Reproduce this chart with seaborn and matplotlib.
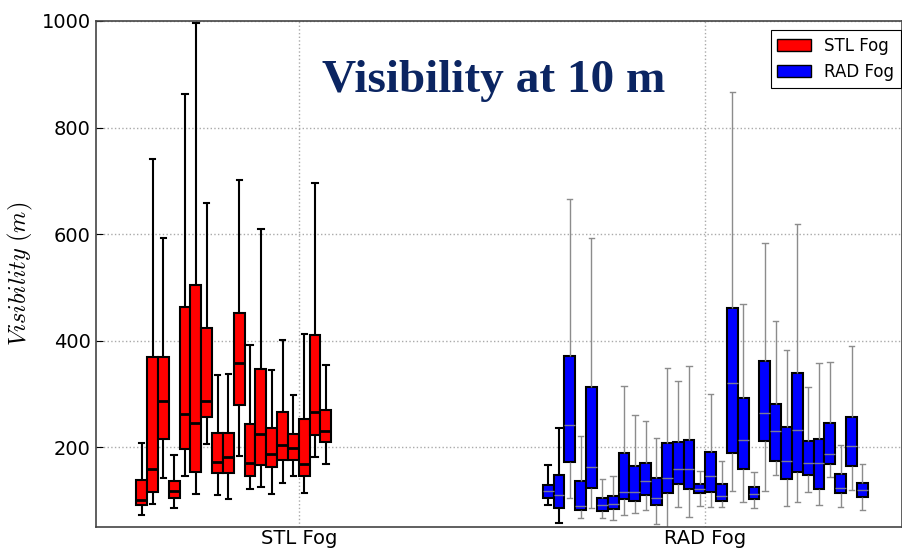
import numpy as np
import pandas as pd
import matplotlib
matplotlib.use("Agg")
import matplotlib.pyplot as plt
from matplotlib.patches import Patch
import seaborn as sns

# Fog types shown on the category axis
groups = ["STL Fog", "RAD Fog"]

# Five-number summaries of visibility (m) for each stratus-lowering fog event
stl_low = [73, 93, 142, 86, 146, 112, 206, 111, 103, 184, 121, 125, 112, 132, 145, 114, 182, 169]
stl_q1 = [91, 116, 215, 104, 196, 154, 257, 151, 151, 279, 145, 166, 162, 175, 176, 146, 222, 210]
stl_med = [101, 159, 287, 117, 262, 245, 286, 172, 181, 357, 171, 224, 187, 204, 198, 168, 265, 231]
stl_q3 = [139, 369, 369, 137, 463, 504, 423, 226, 226, 451, 244, 346, 235, 266, 224, 253, 411, 269]
stl_high = [207, 741, 592, 185, 862, 996, 659, 336, 337, 701, 392, 609, 344, 402, 298, 412, 696, 355]

# Five-number summaries of visibility (m) for each radiation fog event
rad_low = [91, 57, 104, 67, 85, 66, 64, 73, 76, 82, 56, 40, 87, 68, 90,
           87, 87, 118, 97, 86, 118, 147, 89, 96, 116, 92, 144, 87, 119, 81]
rad_q1 = [104, 86, 172, 82, 124, 80, 84, 102, 98, 110, 91, 114, 131, 121, 113,
          116, 99, 188, 159, 103, 212, 174, 140, 153, 147, 121, 169, 113, 165, 106]
rad_med = [118, 111, 242, 89, 162, 91, 93, 116, 116, 137, 104, 142, 159, 159, 122,
           146, 109, 320, 213, 112, 264, 231, 173, 232, 170, 171, 187, 124, 202, 119]
rad_q3 = [129, 147, 371, 137, 312, 104, 109, 188, 164, 170, 142, 207, 210, 214, 131,
          191, 131, 462, 293, 125, 361, 281, 238, 340, 212, 216, 246, 149, 256, 132]
rad_high = [167, 236, 666, 221, 592, 140, 146, 314, 261, 249, 218, 348, 325, 352, 156,
            300, 174, 866, 469, 154, 583, 436, 382, 619, 312, 357, 359, 203, 389, 169]

# Each category holds up to 30 event slots across 0.8 of its width
SLOTS = 30
STEP = 0.8 / SLOTS


def event_frame(lows, q1s, meds, q3s, highs, center, group):
    """Long-form table: the five summary values of every event at its slot."""
    rows = []
    for i, summary in enumerate(zip(lows, q1s, meds, q3s, highs)):
        pos = round(center + (i - (SLOTS - 1) / 2) * STEP, 6)
        for v in summary:
            rows.append({"pos": pos, "vis": v, "fog": group})
    return pd.DataFrame(rows)


stl_df = event_frame(stl_low, stl_q1, stl_med, stl_q3, stl_high, 1, groups[0])
rad_df = event_frame(rad_low, rad_q1, rad_med, rad_q3, rad_high, 2, groups[1])
rad_split = rad_df["pos"].unique()[2]
rad_first = rad_df[rad_df["pos"] < rad_split]
rad_rest = rad_df[rad_df["pos"] >= rad_split]

plt.rcParams["mathtext.fontset"] = "cm"

fig = plt.figure(figsize=(9.02, 5.52), dpi=100)
ax = fig.add_axes([0.106, 0.0453, 0.8935, 0.9167])

common = dict(x="pos", y="vis", native_scale=True, orient="x",
              whis=(0, 100), width=1.0, saturation=1, showfliers=False,
              dodge=False, linecolor="black", linewidth=1.5, ax=ax)

sns.boxplot(data=stl_df, color="#ff0000",
            medianprops=dict(color="black", linewidth=2),
            whiskerprops=dict(color="black", linewidth=1.5),
            capprops=dict(color="black", linewidth=1.5),
            **common)
sns.boxplot(data=rad_first, color="#0000ff",
            medianprops=dict(color="#7a7a9a", linewidth=1),
            whiskerprops=dict(color="black", linewidth=1.5),
            capprops=dict(color="black", linewidth=1.5),
            **common)
sns.boxplot(data=rad_rest, color="#0000ff",
            medianprops=dict(color="#7a7a9a", linewidth=1),
            whiskerprops=dict(color="#8c8c8c", linewidth=1),
            capprops=dict(color="#8c8c8c", linewidth=1),
            **common)

ax.set_xlim(0.5, 2.483)
ax.set_ylim(50, 1000)
ax.set_xticks([1, 2])
ax.set_xticklabels(groups, fontsize=14)
ax.set_yticks([200, 400, 600, 800, 1000])
ax.tick_params(axis="y", labelsize=14, direction="in", length=5)
ax.tick_params(axis="x", length=0, pad=1.5)
ax.set_xlabel("")
ax.set_ylabel(r"$Visibility\ (m)$", fontsize=17.5, labelpad=5)

ax.grid(True, linestyle=":", color="#aaaaaa", linewidth=1)
ax.set_axisbelow(True)
for sp in ax.spines.values():
    sp.set_color("#444444")
    sp.set_linewidth(1.2)

ax.text(0.494, 0.8597, "Visibility at 10 m", transform=ax.transAxes,
        ha="center", va="baseline", fontsize=34, fontweight="bold",
        family="Liberation Serif", color="#0b2562")

handles = [Patch(facecolor="#ff0000", edgecolor="black", label=groups[0]),
           Patch(facecolor="#0000ff", edgecolor="black", label=groups[1])]
leg = ax.legend(handles=handles, loc="upper right", bbox_to_anchor=(0.999, 0.982),
                borderaxespad=0, fontsize=12, fancybox=False, framealpha=1,
                edgecolor="black")
leg.get_frame().set_linewidth(0.8)

fig.savefig("out.png", dpi=100)
